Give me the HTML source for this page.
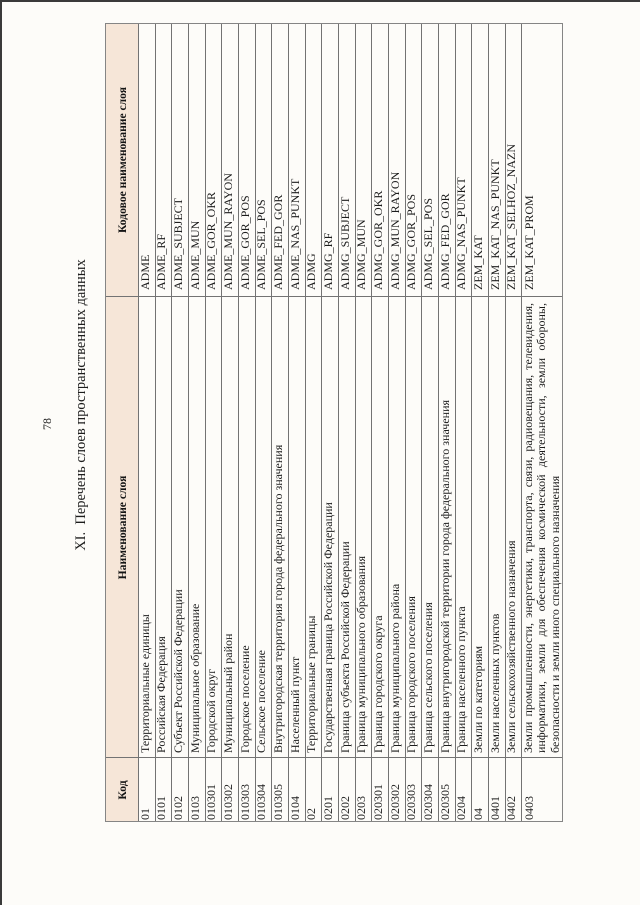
<!DOCTYPE html>
<html>
<head>
<meta charset="utf-8">
<style>
  html, body { margin:0; padding:0; }
  body { width:640px; height:905px; background:#fdfcf9; position:relative; overflow:hidden;
         font-family:"Liberation Serif", "Noto Serif CJK SC", serif; color:#1c1c1c; }
  .topbar { position:absolute; left:0; top:0; width:640px; height:2px; background:#3a3a3a; }
  .leftbar { position:absolute; left:0; top:0; width:2px; height:905px; background:#3a3a3a; }
  .rot { position:absolute; transform:rotate(-90deg); white-space:nowrap; text-align:center; }
  #tbl { position:absolute; left:105px; top:822px; width:799px; height:458px;
         transform-origin:0 0; transform:rotate(-90deg); }
  .hdr { position:absolute; left:0; top:0; width:799px; height:33px; background:#f6e6d8; }
  .hl { position:absolute; left:0; width:799px; height:1px; background:#737373; }
  .vl { position:absolute; top:0; width:1px; height:458px; background:#737373; }
  .bd { position:absolute; left:0; top:0; width:799px; height:458px; box-sizing:border-box;
        border:1.3px solid #858585; }
  .ht { position:absolute; top:0.5px; height:33px; line-height:33px; font-weight:bold; font-size:11.6px;
        text-align:center; white-space:nowrap; color:#151515; }
  .row { position:absolute; left:0; width:799px; height:16.667px; font-size:12px; }
  .row span { position:absolute; top:-1.5px; line-height:16.667px; white-space:nowrap; }
  .c1 { left:2px; } .c2 { left:69px; } .c3 { left:532px; }
  .multi { position:absolute; left:69px; top:417.2px; width:450px; font-size:12px; line-height:13.3px; }
  .multi div { white-space:nowrap; }
  .j { text-align:justify; text-align-last:justify; white-space:normal !important; }
</style>
</head>
<body>
<div class="topbar"></div>
<div class="leftbar"></div>

<div class="rot" style="left:16.5px; top:414px; width:60px; height:20px; line-height:20px; font-size:12px;">78</div>
<div class="rot" style="left:-119px; top:395px; width:400px; height:20px; line-height:20px; font-size:14.5px;">XI.&nbsp; Перечень слоев пространственных данных</div>

<div id="tbl">
  <div class="hdr"></div>
  <div class="ht" style="left:0; width:64px;">Код</div>
  <div class="ht" style="left:64px; width:461px;">Наименование слоя</div>
  <div class="ht" style="left:525px; width:274px;">Кодовое наименование слоя</div>

  <div class="row" style="top:33px;"><span class="c1">01</span><span class="c2">Территориальные единицы</span><span class="c3">ADME</span></div>
  <div class="row" style="top:49.667px;"><span class="c1">0101</span><span class="c2">Российская Федерация</span><span class="c3">ADME_RF</span></div>
  <div class="row" style="top:66.333px;"><span class="c1">0102</span><span class="c2">Субъект Российской Федерации</span><span class="c3">ADME_SUBJECT</span></div>
  <div class="row" style="top:83px;"><span class="c1">0103</span><span class="c2">Муниципальное образование</span><span class="c3">ADME_MUN</span></div>
  <div class="row" style="top:99.667px;"><span class="c1">010301</span><span class="c2">Городской округ</span><span class="c3">ADME_GOR_OKR</span></div>
  <div class="row" style="top:116.333px;"><span class="c1">010302</span><span class="c2">Муниципальный район</span><span class="c3">ADME_MUN_RAYON</span></div>
  <div class="row" style="top:133px;"><span class="c1">010303</span><span class="c2">Городское поселение</span><span class="c3">ADME_GOR_POS</span></div>
  <div class="row" style="top:149.667px;"><span class="c1">010304</span><span class="c2">Сельское поселение</span><span class="c3">ADME_SEL_POS</span></div>
  <div class="row" style="top:166.333px;"><span class="c1">010305</span><span class="c2">Внутригородская территория города федерального значения</span><span class="c3">ADME_FED_GOR</span></div>
  <div class="row" style="top:183px;"><span class="c1">0104</span><span class="c2">Населенный пункт</span><span class="c3">ADME_NAS_PUNKT</span></div>
  <div class="row" style="top:199.667px;"><span class="c1">02</span><span class="c2">Территориальные границы</span><span class="c3">ADMG</span></div>
  <div class="row" style="top:216.333px;"><span class="c1">0201</span><span class="c2">Государственная граница Российской Федерации</span><span class="c3">ADMG_RF</span></div>
  <div class="row" style="top:233px;"><span class="c1">0202</span><span class="c2">Граница субъекта Российской Федерации</span><span class="c3">ADMG_SUBJECT</span></div>
  <div class="row" style="top:249.667px;"><span class="c1">0203</span><span class="c2">Граница муниципального образования</span><span class="c3">ADMG_MUN</span></div>
  <div class="row" style="top:266.333px;"><span class="c1">020301</span><span class="c2">Граница городского округа</span><span class="c3">ADMG_GOR_OKR</span></div>
  <div class="row" style="top:283px;"><span class="c1">020302</span><span class="c2">Граница муниципального района</span><span class="c3">ADMG_MUN_RAYON</span></div>
  <div class="row" style="top:299.667px;"><span class="c1">020303</span><span class="c2">Граница городского поселения</span><span class="c3">ADMG_GOR_POS</span></div>
  <div class="row" style="top:316.333px;"><span class="c1">020304</span><span class="c2">Граница сельского поселения</span><span class="c3">ADMG_SEL_POS</span></div>
  <div class="row" style="top:333px;"><span class="c1">020305</span><span class="c2">Граница внутригородской территории города федерального значения</span><span class="c3">ADMG_FED_GOR</span></div>
  <div class="row" style="top:349.667px;"><span class="c1">0204</span><span class="c2">Граница населенного пункта</span><span class="c3">ADMG_NAS_PUNKT</span></div>
  <div class="row" style="top:366.333px;"><span class="c1">04</span><span class="c2">Земли по категориям</span><span class="c3">ZEM_KAT</span></div>
  <div class="row" style="top:383px;"><span class="c1">0401</span><span class="c2">Земли населенных пунктов</span><span class="c3">ZEM_KAT_NAS_PUNKT</span></div>
  <div class="row" style="top:399.667px;"><span class="c1">0402</span><span class="c2">Земли сельскохозяйственного назначения</span><span class="c3">ZEM_KAT_SELHOZ_NAZN</span></div>
  <div class="row" style="top:416.333px;"><span class="c1" style="top:-0.8px;">0403</span><span class="c3" style="top:-0.8px;">ZEM_KAT_PROM</span></div>
  <div class="multi">
    <div class="j">Земли промышленности, энергетики, транспорта, связи, радиовещания, телевидения,</div>
    <div class="j">информатики, земли для обеспечения космической деятельности, земли обороны,</div>
    <div>безопасности и земли иного специального назначения</div>
  </div>

  <div class="hl" style="top:33px;"></div>
  <div class="hl" style="top:49.667px;"></div>
  <div class="hl" style="top:66.333px;"></div>
  <div class="hl" style="top:83px;"></div>
  <div class="hl" style="top:99.667px;"></div>
  <div class="hl" style="top:116.333px;"></div>
  <div class="hl" style="top:133px;"></div>
  <div class="hl" style="top:149.667px;"></div>
  <div class="hl" style="top:166.333px;"></div>
  <div class="hl" style="top:183px;"></div>
  <div class="hl" style="top:199.667px;"></div>
  <div class="hl" style="top:216.333px;"></div>
  <div class="hl" style="top:233px;"></div>
  <div class="hl" style="top:249.667px;"></div>
  <div class="hl" style="top:266.333px;"></div>
  <div class="hl" style="top:283px;"></div>
  <div class="hl" style="top:299.667px;"></div>
  <div class="hl" style="top:316.333px;"></div>
  <div class="hl" style="top:333px;"></div>
  <div class="hl" style="top:349.667px;"></div>
  <div class="hl" style="top:366.333px;"></div>
  <div class="hl" style="top:383px;"></div>
  <div class="hl" style="top:399.667px;"></div>
  <div class="hl" style="top:416.333px;"></div>

  <div class="vl" style="left:64px;"></div>
  <div class="vl" style="left:525px;"></div>
  <div class="bd"></div>
</div>
</body>
</html>
